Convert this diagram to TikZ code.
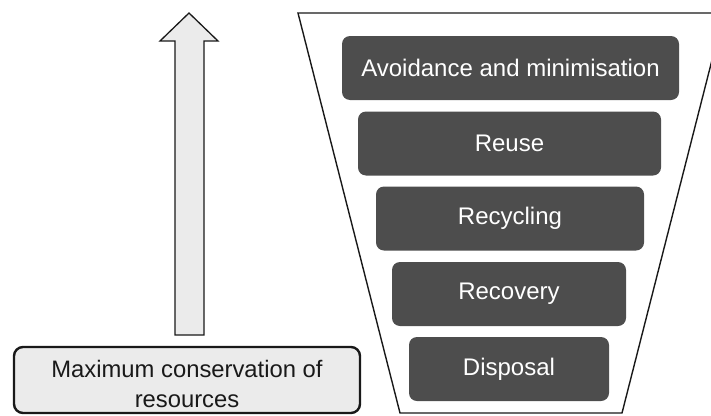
\documentclass[tikz,border=0pt]{standalone}
\usepackage{fontspec}
\setmainfont{Liberation Sans}
\definecolor{levelgray}{RGB}{77,77,77}
\definecolor{paleg}{RGB}{235,235,235}
\definecolor{inkc}{RGB}{25,25,25}
\begin{document}
\begin{tikzpicture}[x=1pt,y=-1pt,
  level/.style={fill=levelgray, rounded corners=8pt, text=white,
    font=\fontsize{24}{27}\selectfont, inner sep=0pt, minimum height=64pt},
  basebox/.style={draw=inkc, line width=2.4pt, fill=paleg, rounded corners=9pt,
    text=inkc, align=center, font=\fontsize{23.8}{29.5}\selectfont,
    minimum width=346pt, minimum height=66pt, inner sep=0pt},
  outline/.style={draw=inkc, line width=1.4pt, line join=miter}]
\clip (0,0) rectangle (711,415);
\path[use as bounding box] (0,0) rectangle (711,415);
% funnel
\draw[outline] (298,13) -- (724,13) -- (622,413) -- (400,413) -- cycle;
% levels
\node[level, minimum width=337pt] (avoid) at (510.5,68) {Avoidance and minimisation};
\node[level, minimum width=303pt] (reuse) at (509.5,143.5) {Reuse};
\node[level, minimum width=268pt] (recyc) at (510,218.5) {Recycling};
\node[level, minimum width=234pt] (recov) at (509,294) {Recovery};
\node[level, minimum width=200pt] (disp) at (509,369) {Disposal};
% base box
\node[basebox] (base) at (187,380) {};
\node[text=inkc, align=center, font=\fontsize{23.8}{29.5}\selectfont, inner sep=0pt]
  (basetext) at (187,384) {Maximum conservation of\\resources};
% arrow
\coordinate (tip) at (189,13);
\draw[outline, fill=paleg, line width=1.3pt]
  (175,335) -- (175,41) -- (160,41) -- (tip) -- (218,41) -- (204,41) -- (204,335) -- cycle;
\end{tikzpicture}
\end{document}
